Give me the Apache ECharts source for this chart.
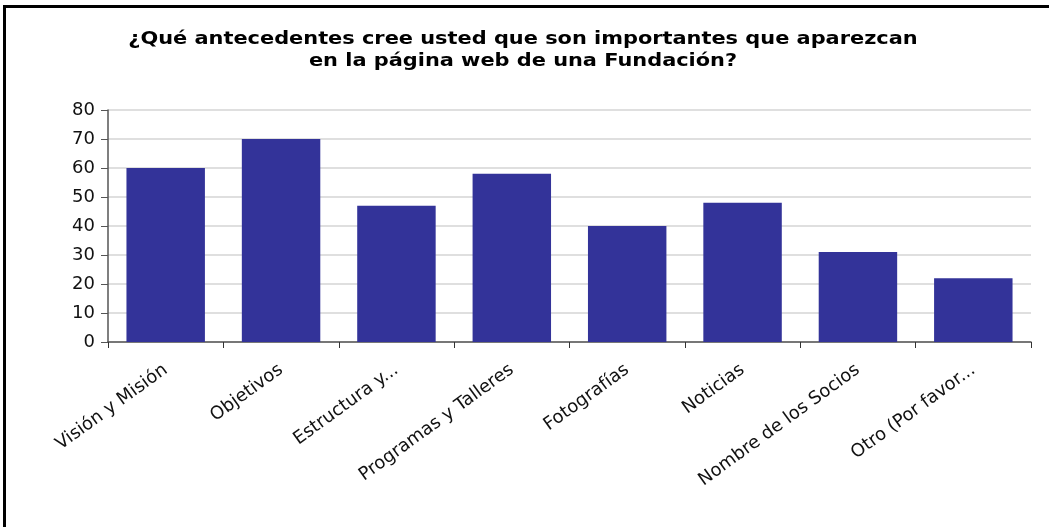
<!DOCTYPE html>
<html>
<head>
<meta charset="utf-8">
<script src="https://cdn.jsdelivr.net/npm/echarts@6/dist/echarts.min.js"></script>
<style>
  html, body { margin: 0; padding: 0; background: #fff; }
  .frame {
    position: absolute;
    left: 3px; top: 5px;
    width: 1046px; height: 522px;
    border-left: 3px solid #000;
    border-top: 3px solid #000;
    box-sizing: border-box;
  }
  #chart { position: absolute; left: 0; top: 0; width: 1049px; height: 527px; }
</style>
</head>
<body>
<div class="frame"></div>
<div id="chart"></div>
<script>
const categories = [
  'Visión y Misión',
  'Objetivos',
  'Estructura y...',
  'Programas y Talleres',
  'Fotografías',
  'Noticias',
  'Nombre de los Socios',
  'Otro (Por favor...'
]
const values = [60, 70, 47, 58, 40, 48, 31, 22]
const yTicks = { min: 0, max: 80, interval: 10 }
const titleText = '¿Qué antecedentes cree usted que son importantes que aparezcan\nen la página web de una Fundación?'

const chart = echarts.init(document.getElementById('chart'), null, { renderer: 'canvas' })

const option = {
  backgroundColor: 'transparent',
  animation: false,
  // title drawn as graphic text so it can be stretched wider like the original
  graphic: [
    {
      type: 'text',
      x: 523,
      y: 50,
      scaleX: 1.16,
      style: {
        text: titleText,
        align: 'center',
        verticalAlign: 'middle',
        fontFamily: 'DejaVu Sans',
        fontWeight: 'bold',
        fontSize: 18,
        lineHeight: 22,
        fill: '#000'
      }
    }
  ],
  grid: {
    left: 108,
    right: 18,
    top: 110,
    bottom: 185,
    containLabel: false
  },
  xAxis: {
    type: 'category',
    data: categories,
    axisLine: { lineStyle: { color: '#555', width: 1.5 } },
    axisTick: { show: true, alignWithLabel: false, length: 6, lineStyle: { color: '#333' } },
    axisLabel: {
      interval: 0,
      rotate: 36,
      margin: 26,
      fontFamily: 'DejaVu Sans',
      fontSize: 18,
      color: '#111'
    }
  },
  yAxis: {
    type: 'value',
    min: yTicks.min,
    max: yTicks.max,
    interval: yTicks.interval,
    axisLine: { show: true, lineStyle: { color: '#555', width: 1.5 } },
    axisTick: { show: true, length: 7, lineStyle: { color: '#555' } },
    axisLabel: {
      margin: 13,
      fontFamily: 'DejaVu Sans',
      fontSize: 18,
      color: '#111'
    },
    splitLine: { lineStyle: { color: '#d4d4d4', width: 1.5 } }
  },
  series: [
    {
      type: 'bar',
      data: values,
      barCategoryGap: '32%',
      itemStyle: { color: '#333399' }
    }
  ]
}

chart.setOption(option)
</script>
</body>
</html>
